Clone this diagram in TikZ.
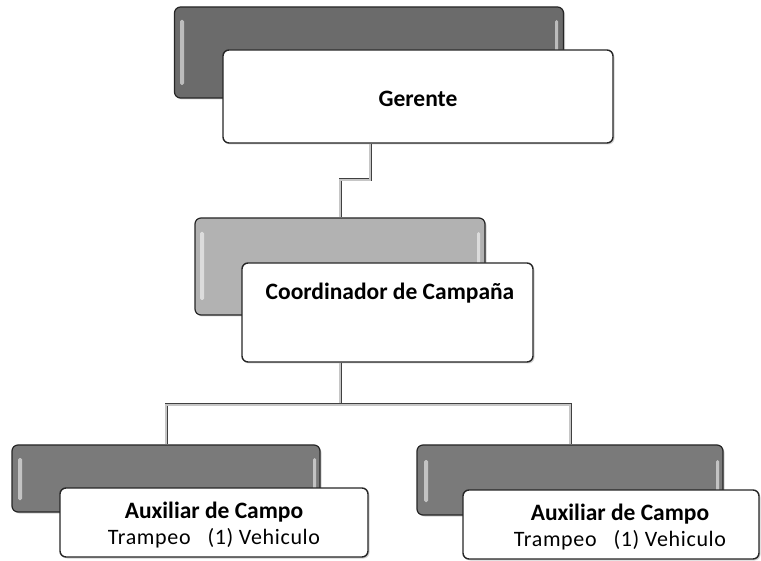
\documentclass[tikz,border=0pt]{standalone}
\usepackage{fontspec}
\setmainfont{Carlito}
\usetikzlibrary{shadows}
\begin{document}
\begin{tikzpicture}[x=1pt,y=-1pt,
  backbox/.style={draw=black!85, line width=1.2pt, rounded corners=6pt, inner sep=0pt,
    drop shadow={shadow xshift=1.5pt, shadow yshift=-1.5pt, opacity=0.35}},
  frontbox/.style={draw=black!85, line width=1.4pt, rounded corners=6pt, fill=white, inner sep=0pt,
    drop shadow={shadow xshift=1.5pt, shadow yshift=-1.5pt, opacity=0.35}},
  hl/.style={fill=white, opacity=0.55, rounded corners=1.5pt},
  conn/.style={draw=black!75, line width=0.7pt, double=gray!45, double distance=1.6pt},
  lbl/.style={font=\bfseries\fontsize{23.5}{27}\selectfont, inner sep=0pt},
  lbl2/.style={align=center, font=\fontsize{22}{25.5}\selectfont, inner sep=0pt}]
\useasboundingbox (0,0) rectangle (761,561);
% Gerente
\node[backbox, fill=black!58, minimum width=389pt, minimum height=91pt] (gg) at (369,52.5) {};
\fill[hl] (180,20) rectangle (184,85);
\fill[hl] (555,20) rectangle (558,85);
\node[frontbox, minimum width=390pt, minimum height=93pt] (gw) at (418,96.5) {};
\node[lbl] (gt) at (418,99) {Gerente};
% Coordinador
\node[backbox, fill=black!30, minimum width=290pt, minimum height=97pt] (cg) at (340,266.5) {};
\fill[hl] (200,232) rectangle (204,300);
\fill[hl] (477,232) rectangle (480,300);
\node[frontbox, minimum width=291pt, minimum height=99pt] (cw) at (387.5,312.5) {};
\node[lbl] (ct) at (390,293) {Coordinador de Campaña};
% Left auxiliar
\node[backbox, fill=black!52, minimum width=308pt, minimum height=67pt] (lg) at (166,478.5) {};
\fill[hl] (18,458) rectangle (22,500);
\fill[hl] (313,458) rectangle (316,500);
\node[frontbox, minimum width=308pt, minimum height=69pt] (lw) at (214,522.5) {};
\node[lbl2] (lt) at (214,525) {{\bfseries\fontsize{23.5}{25.5}\selectfont Auxiliar de Campo}\\{\addfontfeature{LetterSpace=3}Trampeo\ \ \ (1) Vehiculo}};
% Right auxiliar
\node[backbox, fill=black!52, minimum width=306pt, minimum height=70pt] (rg) at (570,480) {};
\fill[hl] (424,460) rectangle (428,502);
\fill[hl] (716,460) rectangle (719,502);
\node[frontbox, minimum width=296pt, minimum height=69pt] (rw) at (611,524.5) {};
\node[lbl2] (rt) at (620,527) {{\bfseries\fontsize{23.5}{25.5}\selectfont Auxiliar de Campo}\\{\addfontfeature{LetterSpace=3}Trampeo\ \ \ (1) Vehiculo}};
% connectors
\coordinate (a) at (370,180);
\coordinate (bus) at (340,405);
\draw[conn] (gw.south -| a) -- (a) -| (cg.north);
\draw[conn] (cw.south -| cg.north) -- (bus);
\draw[conn] (lg.north) |- (bus) -| (rg.north);
\end{tikzpicture}
\end{document}
